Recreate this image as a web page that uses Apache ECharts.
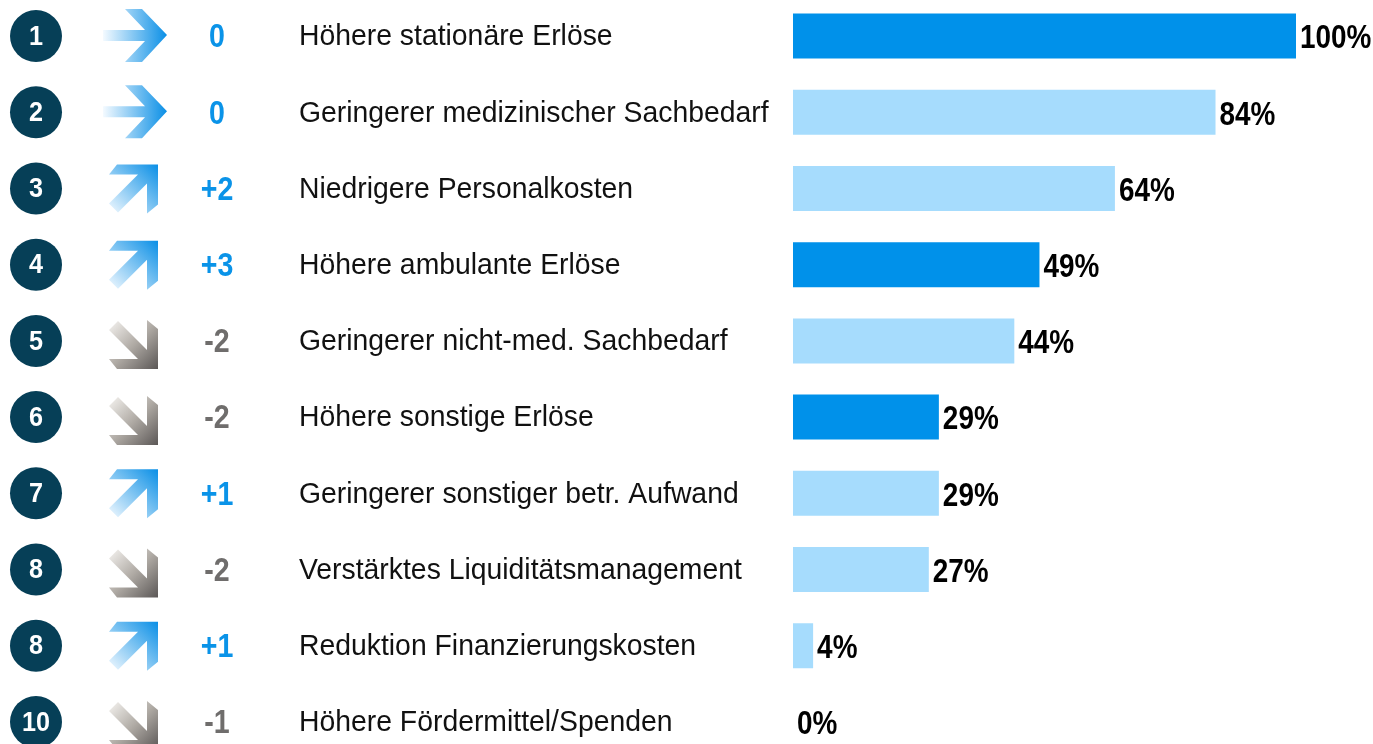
<!DOCTYPE html>
<html>
<head>
<meta charset="utf-8">
<script src="https://cdn.jsdelivr.net/npm/echarts@6/dist/echarts.min.js"></script>
<style>
  html, body { margin: 0; padding: 0; background: #fff; }
  #chart { width: 1373px; height: 744px; }
</style>
</head>
<body>
<div id="chart"></div>
<script>
// Rang, Veränderung zum Vorjahr, Trend, Maßnahme, Anteil der Nennungen (%)
const ranks = ["1", "2", "3", "4", "5", "6", "7", "8", "8", "10"]
const changes = ["0", "0", "+2", "+3", "-2", "-2", "+1", "-2", "+1", "-1"]
const trends = ["flat", "flat", "up", "up", "down", "down", "up", "down", "up", "down"]
const categories = [
  "Höhere stationäre Erlöse",
  "Geringerer medizinischer Sachbedarf",
  "Niedrigere Personalkosten",
  "Höhere ambulante Erlöse",
  "Geringerer nicht-med. Sachbedarf",
  "Höhere sonstige Erlöse",
  "Geringerer sonstiger betr. Aufwand",
  "Verstärktes Liquiditätsmanagement",
  "Reduktion Finanzierungskosten",
  "Höhere Fördermittel/Spenden"
]
const shares = [100, 84, 64, 49, 44, 29, 29, 27, 4, 0]

const FONT = "'Liberation Sans', Arial, sans-serif"
const BLUE = "#0091ea"
const LIGHT = "#a6dcfd"
const NAVY = "#063f57"

// arrow outlines, x absolute, y relative to the row centre
const arrowFlat = [[103, -6], [145, -6], [125, -27], [142, -27], [167, -1], [142, 26], [125, 26], [145, 5], [103, 5]]
const arrowUp = [[117, -24], [158, -24], [158, 16], [147, 25], [147, -5], [118, 24], [109, 15], [138, -14], [109, -14]]
const arrowDown = arrowUp.map(p => [p[0], -p[1] + 4])

const blueGrad = (x, y, x2, y2) => new echarts.graphic.LinearGradient(x, y, x2, y2, [
  { offset: 0, color: "#f4faff" },
  { offset: 0.5, color: "#7ec4f2" },
  { offset: 1, color: "#0a8fe6" }
])
const grayGrad = new echarts.graphic.LinearGradient(0, 0, 1, 1, [
  { offset: 0, color: "#f7f5f2" },
  { offset: 0.5, color: "#b0aba5" },
  { offset: 1, color: "#5b5756" }
])

// narrow text: regular font squeezed horizontally
const txt = (x, y, text, font, fill, align, sx) => ({
  type: "text",
  x, y,
  scaleX: sx,
  style: { x: 0, y: 0, text, font, fill, align, verticalAlign: "middle" }
})

const renderRow = (params, api) => {
  const idx = api.value(1)
  const y = api.coord([0, idx])[1]
  const barEnd = api.coord([shares[idx], idx])[0]
  const trend = trends[idx]
  let pts, fill
  if (trend === "flat") {
    pts = arrowFlat
    fill = blueGrad(0, 0, 1, 0)
  } else if (trend === "up") {
    pts = arrowUp
    fill = blueGrad(0, 1, 1, 0)
  } else {
    pts = arrowDown
    fill = grayGrad
  }
  const neg = changes[idx].startsWith("-")
  return {
    type: "group",
    children: [
      { type: "circle", shape: { cx: 36, cy: y, r: 26 }, style: { fill: NAVY } },
      txt(36, y + 1, ranks[idx], "bold 28px " + FONT, "#fff", "center", 0.9),
      {
        type: "polygon",
        shape: { points: pts.map(p => [p[0], y + p[1]]) },
        style: { fill }
      },
      txt(217, y + 2, changes[idx], "bold 34px " + FONT, neg ? "#6f6d6c" : "#0a93e8", "center", 0.84),
      txt(299, y + 1, categories[idx], "30px " + FONT, "#111", "left", 0.945),
      txt(barEnd + 4, y + 3, shares[idx] + "%", "bold 34px " + FONT, "#000", "left", 0.82)
    ]
  }
}

const chart = echarts.init(document.getElementById("chart"))

chart.setOption({
  animation: false,
  grid: { left: 793, right: 77, top: -2, bottom: -16, outerBoundsMode: "none", containLabel: false },
  xAxis: { type: "value", min: 0, max: 100, show: false },
  yAxis: { type: "category", data: categories, inverse: true, show: false },
  series: [
    {
      type: "bar",
      barWidth: 45,
      data: shares.map((v, i) => ({
        value: v,
        itemStyle: { color: categories[i].includes("Erlöse") ? BLUE : LIGHT }
      }))
    },
    {
      type: "custom",
      clip: false,
      renderItem: renderRow,
      data: categories.map((c, i) => [0, i])
    }
  ]
})

window.addEventListener("resize", () => chart.resize())
</script>
</body>
</html>
